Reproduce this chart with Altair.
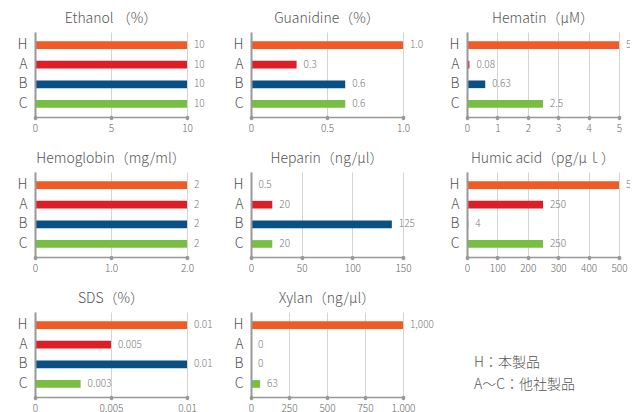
import altair as alt
import pandas as pd

FONT = "Noto Sans CJK JP"

categories = ["H", "A", "B", "C"]
bar_colors = ["#F15A24", "#DC1F26", "#0B5082", "#78BE43"]

# panel titles
titles = [
    "Ethanol （%）", "Guanidine（%）", "Hematin（μM）",
    "Hemoglobin（mg/ml）", "Heparin（ng/μl）", "Humic acid（pg/μｌ）",
    "SDS（%）", "Xylan（ng/μl）",
]

# bar lengths as drawn, and the value labels printed beside them
ethanol_values = [10, 10, 10, 10]
ethanol_labels = ["10", "10", "10", "10"]
guanidine_values = [1.0, 0.3, 0.62, 0.62]
guanidine_labels = ["1.0", "0.3", "0.6", "0.6"]
hematin_values = [5, 0.08, 0.6, 2.5]
hematin_labels = ["5", "0.08", "0.63", "2.5"]
hemoglobin_values = [2, 2, 2, 2]
hemoglobin_labels = ["2", "2", "2", "2"]
heparin_values = [0.5, 21, 139, 21]
heparin_labels = ["0.5", "20", "125", "20"]
humic_values = [500, 250, 4, 250]
humic_labels = ["500", "250", "4", "250"]
sds_values = [0.01, 0.005, 0.01, 0.003]
sds_labels = ["0.01", "0.005", "0.01", "0.003"]
xylan_values = [1000, 0, 0, 60]
xylan_labels = ["1,000", "0", "0", "63"]

# axis ticks and their labels
ethanol_ticks = [0, 5, 10]
ethanol_tick_labels = ["0", "5", "10"]
guanidine_ticks = [0, 0.5, 1.0]
guanidine_tick_labels = ["0", "0.5", "1.0"]
hematin_ticks = [0, 1, 2, 3, 4, 5]
hematin_tick_labels = ["0", "1", "2", "3", "4", "5"]
hemoglobin_ticks = [0, 1.0, 2.0]
hemoglobin_tick_labels = ["0", "1.0", "2.0"]
heparin_ticks = [0, 50, 100, 150]
heparin_tick_labels = ["0", "50", "100", "150"]
humic_ticks = [0, 100, 200, 300, 400, 500]
humic_tick_labels = ["0", "100", "200", "300", "400", "500"]
sds_ticks = [0, 0.005, 0.01]
sds_tick_labels = ["0", "0.005", "0.01"]
xylan_ticks = [0, 250, 500, 750, 1000]
xylan_tick_labels = ["0", "250", "500", "750", "1,000"]

legend_lines = ["H：本製品", "A～C：他社製品"]

W, H = 152, 85


def label_expr(ticks, labels):
    expr = f"'{labels[-1]}'"
    for t, l in reversed(list(zip(ticks[:-1], labels[:-1]))):
        expr = f"datum.value == {t} ? '{l}' : ({expr})"
    return expr


def panel(title, values, labels, ticks, tick_labels):
    df = pd.DataFrame({"cat": categories, "value": values, "label": labels})
    x = alt.X(
        "value:Q",
        scale=alt.Scale(domain=[0, ticks[-1]], nice=False, zero=True),
        axis=alt.Axis(
            values=ticks, labelExpr=label_expr(ticks, tick_labels), title=None,
            grid=True, gridColor="#d4d4d4", gridWidth=1,
            domainColor="#999999", domainWidth=1.5,
            tickColor="#999999", tickCap="round", tickWidth=3.5, tickSize=1,
            labelColor="#666666", labelFontSize=10, labelPadding=5,
            labelFlush=False, labelFont=FONT, labelFontWeight=300, zindex=0,
        ),
    )
    y = alt.Y(
        "cat:N", sort=categories,
        scale=alt.Scale(paddingInner=0.61, paddingOuter=0.47),
        axis=alt.Axis(
            title=None, ticks=False, labelPadding=8, labelFontSize=14,
            labelColor="#555555", labelFont=FONT, labelFontWeight=300,
            domainColor="#999999", domainWidth=2, grid=False, zindex=1,
        ),
    )
    base = alt.Chart(df).encode(x=x, y=y)
    bars = base.mark_bar().encode(
        color=alt.Color("cat:N", scale=alt.Scale(domain=categories, range=bar_colors), legend=None)
    )
    text = base.mark_text(
        align="left", baseline="middle", dx=7, fontSize=10, color="#777777",
        font=FONT, fontWeight=300,
    ).encode(text="label:N")
    return alt.layer(bars, text).properties(
        width=W, height=H,
        title=alt.TitleParams(
            title, anchor="middle", frame="group", fontSize=14, fontWeight=300,
            color="#555555", font=FONT, offset=6,
        ),
    )


p_eth = panel(titles[0], ethanol_values, ethanol_labels, ethanol_ticks, ethanol_tick_labels)
p_gua = panel(titles[1], guanidine_values, guanidine_labels, guanidine_ticks, guanidine_tick_labels)
p_hem = panel(titles[2], hematin_values, hematin_labels, hematin_ticks, hematin_tick_labels)
p_hgb = panel(titles[3], hemoglobin_values, hemoglobin_labels, hemoglobin_ticks, hemoglobin_tick_labels)
p_hep = panel(titles[4], heparin_values, heparin_labels, heparin_ticks, heparin_tick_labels)
p_hum = panel(titles[5], humic_values, humic_labels, humic_ticks, humic_tick_labels)
p_sds = panel(titles[6], sds_values, sds_labels, sds_ticks, sds_tick_labels)
p_xyl = panel(titles[7], xylan_values, xylan_labels, xylan_ticks, xylan_tick_labels)

leg_df = pd.DataFrame({"line": legend_lines})
legend = alt.layer(
    alt.Chart(leg_df).transform_filter(alt.datum.line == legend_lines[0]).mark_text(
        align="left", baseline="middle", fontSize=14, color="#555555", font=FONT,
        fontWeight=300,
    ).encode(text="line:N", x=alt.value(7), y=alt.value(51)),
    alt.Chart(leg_df).transform_filter(alt.datum.line == legend_lines[1]).mark_text(
        align="left", baseline="middle", fontSize=14, color="#555555", font=FONT,
        fontWeight=300,
    ).encode(text="line:N", x=alt.value(7), y=alt.value(73)),
).properties(width=W, height=H)

chart = alt.concat(
    p_eth, p_gua, p_hem, p_hgb, p_hep, p_hum, p_sds, p_xyl, legend,
    columns=3, spacing=alt.RowColnumber(row=55, column=64), bounds="flush",
).properties(
    autosize=alt.AutoSizeParams(type="none"),
    padding={"left": 27, "top": 24, "right": 595, "bottom": 380},
    background="white",
).configure(font=FONT).configure_view(stroke="transparent", strokeWidth=0)

chart.save("out.html", embed_options={"renderer": "svg", "actions": False})
